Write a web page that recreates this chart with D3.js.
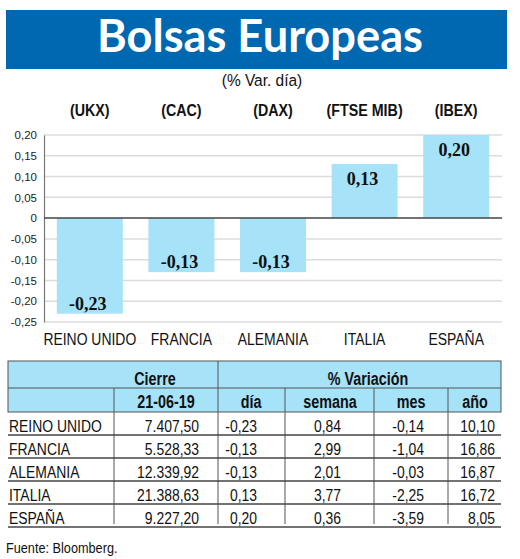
<!DOCTYPE html>
<html>
<head>
<meta charset="utf-8">
<script src="https://cdnjs.cloudflare.com/ajax/libs/d3/7.8.5/d3.min.js"></script>
<style>
  html, body { margin: 0; padding: 0; background: #fff; }
  svg { display: block; }
</style>
</head>
<body>
<div id="chart"></div>
<script>
// datos del grafico
var paises = ["REINO UNIDO", "FRANCIA", "ALEMANIA", "ITALIA", "ESPAÑA"];
var indices = ["(UKX)", "(CAC)", "(DAX)", "(FTSE MIB)", "(IBEX)"];
var varDia = [-0.23, -0.13, -0.13, 0.13, 0.20];
var yTicks = [0.20, 0.15, 0.10, 0.05, 0, -0.05, -0.10, -0.15, -0.20, -0.25];

// datos de la tabla
var cierre = [7407.50, 5528.33, 12339.92, 21388.63, 9227.20];
var varSemana = [0.84, 2.99, 2.01, 3.77, 0.36];
var varMes = [-0.14, -1.04, -0.03, -2.25, -3.59];
var varAnio = [10.10, 16.86, 16.87, 16.72, 8.05];
var fechaCierre = "21-06-19";

var W = 520, H = 559;
var azul = "#0067b1", celeste = "#a6e2f8";
var sans = "'Liberation Sans', Arial, sans-serif";
var estrecho = 0.82; // factor para simular la letra condensada

// formato con coma decimal, punto de miles y guion como signo menos
var es = d3.formatLocale({decimal: ",", thousands: ".", grouping: [3], currency: ["", ""], minus: "-"});
var f2 = es.format(".2f");
var fMiles = es.format(",.2f");

var svg = d3.select("#chart").append("svg")
  .attr("width", W)
  .attr("height", H);

// texto condensado: se coloca con translate y se estrecha con scale
function textoEstrecho(sel, fx, fy, k) {
  k = k || estrecho;
  return sel
    .attr("transform", (d, i) => "translate(" + (typeof fx === "function" ? fx(d, i) : fx) + "," +
      (typeof fy === "function" ? fy(d, i) : fy) + ") scale(" + k + ",1)")
    .attr("font-family", sans)
    .attr("fill", "#111");
}

//Cabecera azul
svg.append("rect")
  .attr("x", 6).attr("y", 10).attr("width", 501).attr("height", 59)
  .attr("fill", azul);
svg.append("text")
  .attr("x", 260).attr("y", 52)
  .attr("text-anchor", "middle")
  .attr("font-family", "Lato, 'Open Sans', sans-serif")
  .attr("font-weight", "bold")
  .attr("font-size", 45)
  .attr("fill", "#fff")
  .attr("textLength", 326)
  .attr("lengthAdjust", "spacingAndGlyphs")
  .text("Bolsas Europeas");

textoEstrecho(svg.append("text"), 262, 86, 0.91)
  .attr("text-anchor", "middle")
  .attr("font-size", 17)
  .text("(% Var. día)");

//Escalas
var x = d3.scaleBand()
  .domain(paises)
  .range([44, 502])
  .paddingInner(0.28)
  .paddingOuter(0.14);

var y = d3.scaleLinear()
  .domain([-0.25, 0.20])
  .range([322, 135]);

//Lineas de la rejilla
svg.append("g")
  .selectAll("line")
  .data(yTicks.filter(d => d !== 0))
  .enter().append("line")
  .attr("x1", 44).attr("x2", 502)
  .attr("y1", d => y(d)).attr("y2", d => y(d))
  .attr("stroke", "#dcdcdc")
  .attr("stroke-width", 1.5);

//Eje Y
var yAxis = svg.append("g")
  .attr("transform", "translate(44,0)")
  .call(d3.axisLeft(y).tickValues(yTicks).tickSize(0).tickPadding(7)
    .tickFormat(d => d === 0 ? "0" : f2(d)));
yAxis.select(".domain").attr("stroke", "#777").attr("stroke-width", 1.2);
yAxis.selectAll("text")
  .attr("font-family", sans)
  .attr("font-size", 11.5)
  .attr("fill", "#222");

//Barras
svg.append("g")
  .selectAll("rect")
  .data(varDia)
  .enter().append("rect")
  .attr("x", (d, i) => x(paises[i]))
  .attr("y", d => y(Math.max(0, d)))
  .attr("width", x.bandwidth())
  .attr("height", d => Math.abs(y(d) - y(0)))
  .attr("fill", celeste);

//Linea del cero
svg.append("line")
  .attr("x1", 44).attr("x2", 502)
  .attr("y1", y(0)).attr("y2", y(0))
  .attr("stroke", "#444")
  .attr("stroke-width", 1.5);

//Valores dentro de las barras
svg.append("g")
  .selectAll("text")
  .data(varDia)
  .enter().append("text")
  .attr("x", (d, i) => x(paises[i]) + x.bandwidth() / 2 - 2)
  .attr("y", d => d < 0 ? y(d) - 4 : y(d) + 21)
  .attr("text-anchor", "middle")
  .attr("font-family", "'Liberation Serif', serif")
  .attr("font-weight", "bold")
  .attr("font-size", 18)
  .attr("fill", "#111")
  .text(d => f2(d));

//Indices arriba
textoEstrecho(svg.append("g")
  .selectAll("text")
  .data(indices)
  .enter().append("text"), (d, i) => x(paises[i]) + x.bandwidth() / 2, 116, 0.84)
  .attr("text-anchor", "middle")
  .attr("font-weight", "bold")
  .attr("font-size", 17)
  .text(d => d);

//Nombres de los paises abajo
textoEstrecho(svg.append("g")
  .selectAll("text")
  .data(paises)
  .enter().append("text"), d => x(d) + x.bandwidth() / 2, 345)
  .attr("text-anchor", "middle")
  .attr("font-size", 17)
  .text(d => d);

//Tabla
var tabla = svg.append("g");
var tTop = 361, tFila1 = 388, tFila2 = 412, altoFila = 23;
var colX = [8, 114, 218, 285, 374, 448, 501];

tabla.append("rect")
  .attr("x", colX[0]).attr("y", tTop)
  .attr("width", colX[6] - colX[0]).attr("height", tFila2 - tTop)
  .attr("fill", celeste)
  .attr("stroke", "#555").attr("stroke-width", 1);
tabla.append("line")
  .attr("x1", colX[0]).attr("x2", colX[6])
  .attr("y1", tFila1).attr("y2", tFila1)
  .attr("stroke", "#555");

var bottom = tFila2 + altoFila * paises.length;
// separadores verticales
tabla.append("line")
  .attr("x1", colX[2]).attr("x2", colX[2])
  .attr("y1", tTop).attr("y2", bottom - 3)
  .attr("stroke", "#555");
[1, 3, 4, 5].forEach(function(c) {
  tabla.append("line")
    .attr("x1", colX[c]).attr("x2", colX[c])
    .attr("y1", tFila1).attr("y2", bottom - 3)
    .attr("stroke", "#555");
});

// cabeceras
function cabecera(txt, cx, cy) {
  textoEstrecho(tabla.append("text"), cx, cy)
    .attr("text-anchor", "middle")
    .attr("font-weight", "bold")
    .attr("font-size", 17.5)
    .text(txt);
}
cabecera("Cierre", 155, 385);
cabecera("% Variación", 368, 385);
cabecera(fechaCierre, 166, 408);
cabecera("día", 251, 408);
cabecera("semana", 330, 408);
cabecera("mes", 411, 408);
cabecera("año", 475, 408);

// filas
var filas = paises.map(function(p, i) {
  return [p, fMiles(cierre[i]), f2(varDia[i]), f2(varSemana[i]), f2(varMes[i]), f2(varAnio[i])];
});
var derecha = [null, 199, 257, 341, 424, 495];

var fila = tabla.selectAll("g.fila")
  .data(filas)
  .enter().append("g")
  .attr("class", "fila")
  .attr("transform", (d, i) => "translate(0," + (tFila2 + altoFila * (i + 1)) + ")");

fila.append("line")
  .attr("x1", colX[0]).attr("x2", colX[6])
  .attr("y1", 0).attr("y2", 0)
  .attr("stroke", "#444")
  .attr("stroke-width", 1.3);

textoEstrecho(fila.selectAll("text")
  .data(d => d)
  .enter().append("text"), (d, j) => j === 0 ? 9 : derecha[j], -3)
  .attr("text-anchor", (d, j) => j === 0 ? "start" : "end")
  .attr("font-size", 17)
  .text(d => d);

//Fuente
textoEstrecho(svg.append("text"), 6, 553)
  .attr("font-size", 15.5)
  .text("Fuente: Bloomberg.");
</script>
</body>
</html>
